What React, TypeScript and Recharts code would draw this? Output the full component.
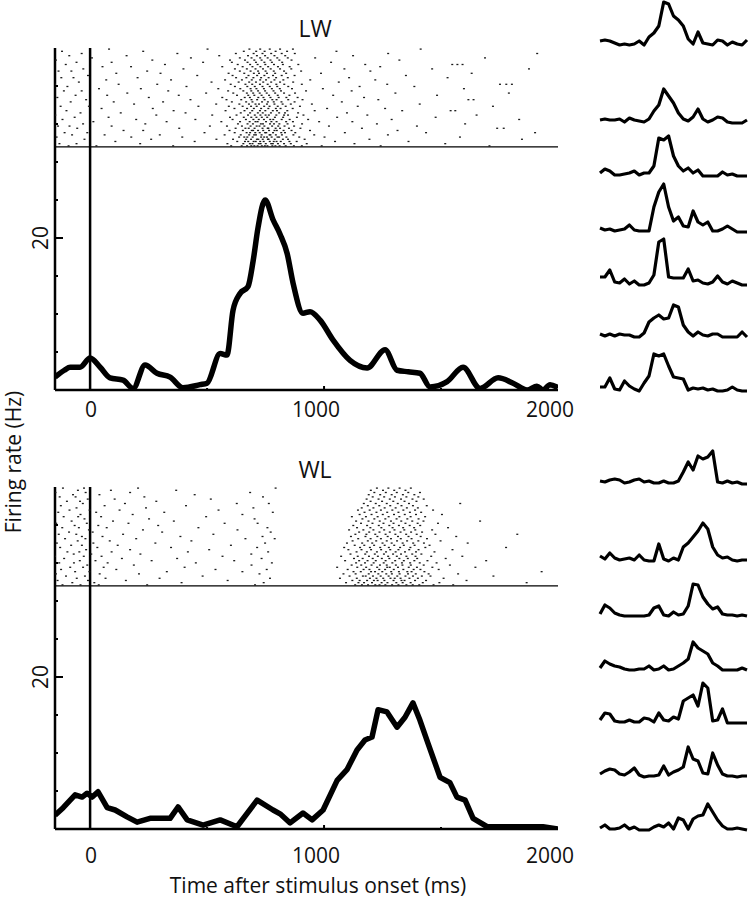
import React from "react";
import { ComposedChart, LineChart, Line, Scatter, XAxis, YAxis, ReferenceLine } from "recharts";

const FONT = "'Open Sans', sans-serif";

// smoothed firing rate (Hz) against time after stimulus onset (ms)
const lwTime = [-150, -110, -85, -43, 0, 43, 85, 141, 184, 235, 286, 342, 397, 470, 500, 556, 585, 611, 641, 675, 697, 718, 748, 782, 812, 842, 868, 910, 940, 983, 1038, 1111, 1184, 1261, 1312, 1360, 1410, 1453, 1526, 1594, 1667, 1744, 1808, 1868, 1910, 1936, 1966, 2000];
const lwRate = [1.7, 2.6, 3.0, 3.0, 4.2, 3.0, 1.6, 1.3, 0.2, 3.3, 2.2, 1.7, 0.3, 0.7, 0.9, 4.8, 4.6, 10.5, 12.7, 13.6, 17, 21.4, 25, 22.4, 20.5, 18, 14, 10.1, 10.3, 9.2, 6.6, 3.9, 2.9, 5.3, 2.6, 2.4, 2.2, 0.4, 1.1, 3.0, 0.2, 1.6, 0.9, 0, 0.5, 0, 0.7, 0.3];

const wlTime = [-150, -115, -64, -34, -13, 9, 34, 73, 107, 158, 201, 256, 342, 376, 415, 483, 556, 628, 714, 782, 812, 855, 910, 949, 996, 1056, 1098, 1141, 1175, 1205, 1231, 1269, 1312, 1346, 1380, 1410, 1444, 1496, 1538, 1568, 1603, 1637, 1697, 1808, 1936, 2000];
const wlRate = [1.8, 2.8, 4.5, 4.2, 4.7, 4.2, 4.9, 2.8, 2.5, 1.6, 0.9, 1.4, 1.4, 2.9, 1.2, 0.5, 1.2, 0.3, 3.8, 2.5, 2.0, 0.8, 2.1, 1.2, 2.5, 6.4, 7.8, 10.4, 11.7, 12.1, 15.7, 15.4, 13.4, 14.7, 16.6, 14.3, 11.3, 6.8, 6.1, 4.2, 3.8, 1.4, 0.3, 0.3, 0.3, 0];

// spike times (ms) per trial, first entry = bottom row of the raster
const lwRaster = [
  "-92 27 355 603 648 671 689 702 716 734 747 758 779 792 810 836 871 905 990 1242 1707",
  "-131 -58 214 587 655 683 694 721 729 751 774 781 803 829 858 926 1130 1518",
  "108 447 629 662 676 699 708 727 742 768 785 797 815 852 883 1047 1361",
  "-24 261 540 611 667 688 713 719 738 760 763 789 824 846 917 1194 1846",
  "-143 176 394 637 659 672 695 731 744 756 776 801 808 839 894 1002 1581",
  "-77 62 298 575 644 680 701 709 733 767 771 794 820 869 958 1273",
  "-109 -12 489 618 669 684 706 725 748 753 782 817 833 877 1089 1436 1902",
  "143 227 596 653 691 697 718 740 765 788 798 827 861 940 1314",
  "-55 381 622 664 678 703 737 759 762 793 812 850 899 1162 1740 1768",
  "-137 -88 92 512 585 649 686 712 724 745 778 804 831 872 1021 1397",
  "-30 236 632 673 696 730 739 769 786 809 844 906 1226 1603",
  "14 327 561 641 682 707 716 752 775 797 838 867 979 1121",
  "-118 197 450 609 666 698 721 743 770 783 819 853 932 1289 1834",
  "-66 79 598 657 689 711 734 757 790 825 884 1056 1477",
  "-149 283 522 626 675 704 728 750 764 796 829 846 912 1185 1652",
  "-41 131 408 644 684 717 738 773 808 833 889 1098",
  "-101 357 579 660 693 726 749 781 799 843 960 1334 1541 1561",
  "49 268 617 671 700 731 762 794 814 866 1013 1261",
  "-126 -5 463 593 652 688 712 744 767 802 836 897 1144 1722",
  "188 539 638 679 707 722 756 788 823 858 948 1409",
  "-83 101 312 606 667 694 735 760 785 818 874 1076",
  "-17 429 583 646 690 714 746 779 797 847 908 1232 1617 1639",
  "-140 251 565 661 683 719 741 771 806 839 887 1171",
  "-62 73 379 628 676 702 733 765 802 852 1039 1483",
  "159 496 612 670 697 725 755 791 829 876 1305 1790",
  "-112 -36 334 590 655 689 718 748 784 816 923 1118",
  "38 217 548 642 686 711 743 777 811 863 995 1598",
  "-97 412 619 672 704 737 768 800 847 1152 1386",
  "-150 122 287 601 664 693 726 759 796 830 905 1270 1752 1779 1803",
  "-48 519 635 680 709 740 774 812 868 1063",
  "69 346 577 649 691 727 752 788 826 941 1219",
  "-123 -71 203 624 668 698 731 763 795 845 1107 1528",
  "-9 458 609 677 714 745 782 819 874 1350",
  "112 301 592 659 700 722 756 791 838 987 1631",
  "-135 -80 244 640 686 718 750 785 829 902 1198",
  "-29 399 619 670 707 739 772 812 860 1087 1462 1876",
  "53 175 565 652 694 728 761 803 853 1240",
  "-104 320 631 684 716 749 786 824 890 1176 1548 1570 1592",
  "-58 92 483 606 673 709 745 777 821 1030",
  "-146 266 598 662 702 733 771 809 861 1322",
  "8 431 640 690 727 759 800 845 962 1688",
  "-89 156 552 675 713 748 788 834 1124",
  "-36 373 623 699 737 774 819 875 1274 1911",
  "-120 227 657 710 746 793 842 1053",
  "81 502 681 727 768 812 867 1413",
];

const wlRaster = [
  "-118 -41 37 244 705 1133 1162 1188 1219 1237 1262 1291 1318 1352 1379 1407 1468 1552",
  "-76 18 391 742 1094 1147 1171 1205 1246 1271 1309 1336 1370 1422 1493 1866",
  "-139 -9 153 588 1121 1152 1184 1213 1229 1258 1297 1331 1344 1389 1436 1609",
  "-57 66 297 769 1068 1140 1196 1224 1253 1284 1302 1327 1365 1401 1511",
  "-103 -22 481 1109 1166 1178 1209 1242 1276 1313 1348 1380 1418 1455 1724",
  "-146 41 209 724 1083 1135 1191 1232 1266 1290 1323 1359 1392 1447 1573",
  "-64 -3 328 651 1126 1157 1201 1218 1249 1287 1320 1356 1374 1429 1930",
  "-124 112 536 755 1101 1169 1194 1236 1261 1298 1339 1383 1412 1490",
  "-85 -30 58 404 1056 1142 1180 1227 1270 1281 1316 1362 1397 1463 1647",
  "-12 187 690 1118 1159 1203 1239 1268 1307 1335 1371 1426 1538",
  "-132 -69 75 452 777 1137 1175 1212 1255 1292 1333 1368 1409 1481",
  "-44 23 263 616 1090 1150 1186 1221 1263 1304 1341 1386 1442 1693",
  "-111 136 372 733 1128 1165 1208 1247 1279 1322 1358 1398 1520",
  "-150 -27 49 566 1073 1144 1192 1230 1274 1311 1352 1391 1458 1591",
  "-70 5 215 689 1113 1176 1217 1256 1295 1329 1377 1416",
  "-97 -46 92 418 761 1139 1183 1226 1265 1306 1346 1393 1472",
  "-17 171 509 1104 1160 1201 1244 1283 1318 1364 1404 1549",
  "-128 31 346 714 1086 1154 1196 1240 1277 1325 1369 1433 1778",
  "-81 -35 118 602 1131 1172 1214 1259 1300 1341 1387 1451",
  "-142 14 279 748 1098 1163 1206 1250 1289 1336 1381 1427 1614",
  "-53 84 433 1122 1187 1223 1268 1312 1355 1403 1498",
  "-107 -20 197 664 789 1146 1199 1243 1286 1328 1374 1440",
  "-35 53 386 737 1115 1177 1228 1272 1316 1361 1413 1565",
  "-134 -59 141 527 1134 1181 1219 1263 1305 1351 1396 1476 1826",
  "-90 11 308 772 1150 1193 1237 1281 1327 1372 1419",
  "-5 226 630 1107 1168 1211 1257 1301 1343 1390 1462",
  "-119 -48 71 463 758 1141 1198 1245 1293 1338 1385 1530",
  "-66 35 291 1125 1184 1234 1279 1320 1366 1411",
  "-145 -14 164 575 716 1158 1207 1254 1297 1348 1400 1487",
  "-79 98 358 1137 1190 1238 1286 1330 1377 1425 1667",
  "-24 252 703 1164 1215 1262 1310 1356 1404",
  "-113 -51 47 496 1119 1179 1229 1276 1322 1370 1432",
  "-41 182 651 1152 1203 1251 1299 1345 1393 1504",
  "-136 26 317 781 1173 1224 1270 1318 1367 1415",
  "-88 -2 126 549 1145 1195 1243 1292 1339 1389 1466",
  "-58 239 698 1161 1211 1259 1306 1354 1401",
  "-125 62 410 1187 1236 1283 1331 1380 1439",
  "-31 149 627 764 1170 1221 1268 1315 1363 1582",
  "-99 -43 283 1199 1248 1296 1344 1395",
  "-10 105 516 1182 1233 1281 1329 1378 1426",
  "-130 -62 232 739 1208 1257 1303 1352 1403",
  "-73 40 447 1191 1240 1289 1337 1386",
  "-148 -19 171 684 1215 1264 1311 1360 1410",
  "-52 89 368 1200 1252 1300 1348",
  "-116 -26 205 793 1226 1275 1323 1371",
];

const rateTicks = [0, 5, 10, 15, 20, 25, 30, 35, 40];
const rateLabels = [20];
const timeTicks = [0, 500, 1000, 1500, 2000];
const timeLabels = [0, 1000, 2000];

// single-neuron rate traces on the right, 31 equal bins over the same time window
const lwTraces = [
  [5, 6, 5, 3, 1, 2, 1, 2, 5, 1, 9, 13, 20, 44, 42, 30, 26, 20, 7, 2, 14, 3, 2, 1, 6, 5, 1, 4, 2, 1, 6],
  [3, 4, 3, 3, 4, 1, 5, 3, 2, 1, 4, 12, 18, 34, 27, 20, 10, 4, 2, 6, 14, 4, 1, 3, 6, 5, 1, 0, 0, 0, 3],
  [3, 7, 5, 1, 1, 2, 3, 5, 1, 3, 3, 10, 38, 36, 40, 20, 10, 5, 8, 3, 6, 0, 0, 0, 0, 4, 1, 2, 0, 0, 0],
  [4, 2, 3, 1, 2, 3, 7, 2, 1, 1, 1, 25, 40, 48, 25, 11, 15, 6, 5, 21, 10, 7, 10, 1, 1, 3, 6, 3, 0, 0, 0],
  [8, 8, 15, 3, 2, 6, 1, 4, 0, 0, 2, 10, 43, 46, 8, 7, 7, 7, 16, 4, 5, 2, 1, 3, 9, 3, 1, 4, 2, 0, 0],
  [3, 1, 3, 1, 3, 2, 2, 0, 0, 4, 15, 19, 22, 18, 19, 32, 30, 12, 5, 1, 5, 2, 1, 3, 3, 0, 0, 0, 0, 5, 0],
  [4, 4, 13, 2, 1, 10, 5, 2, 0, 8, 15, 37, 35, 37, 25, 14, 13, 12, 1, 3, 2, 3, 1, 2, 0, 0, 1, 4, 1, 0, 0],
];
const wlTraces = [
  [3, 2, 4, 5, 4, 1, 2, 4, 5, 2, 3, 1, 1, 3, 1, 1, 3, 12, 22, 14, 28, 25, 27, 33, 2, 1, 3, 1, 2, 0, 0],
  [5, 2, 8, 3, 1, 2, 3, 1, 6, 1, 0, 0, 17, 2, 0, 3, 1, 14, 18, 24, 30, 38, 32, 14, 6, 3, 4, 1, 0, 1, 1],
  [2, 11, 8, 3, 1, 0, 0, 0, 0, 0, 1, 8, 10, 1, 0, 4, 1, 2, 10, 32, 31, 19, 12, 7, 9, 2, 1, 1, 0, 1, 0],
  [2, 9, 6, 4, 3, 1, 0, 0, 1, 1, 4, 0, 1, 4, 0, 1, 4, 7, 11, 28, 22, 19, 16, 7, 4, 0, 0, 0, 0, 2, 0],
  [3, 10, 9, 2, 1, 1, 3, 1, 1, 5, 4, 1, 10, 3, 2, 6, 4, 22, 25, 28, 17, 40, 35, 2, 3, 14, 0, 0, 0, 0, 0],
  [3, 6, 8, 7, 3, 2, 5, 9, 2, 0, 1, 1, 2, 11, 2, 5, 7, 10, 30, 18, 16, 4, 3, 24, 12, 3, 1, 1, 0, 1, 1],
  [2, 5, 1, 1, 2, 5, 1, 3, 0, 0, 0, 3, 5, 3, 7, 1, 12, 10, 1, 11, 14, 15, 26, 18, 10, 4, 1, 1, 2, 1, 0],
];

// layout: baseline (px from page top) of each small trace
const lwTraceRows = [46, 123, 176, 232, 285, 337, 391];
const wlTraceRows = [484, 561, 616, 670, 723, 777, 830];

const toRate = (t: number[], r: number[]) => t.map((x, i) => ({ t: x, rate: r[i] }));
const toSpikes = (rows: string[]) =>
  rows.flatMap((row, trial) => row.split(" ").map((s) => ({ t: Number(s), trial: trial + 0.5 })));

function RateTick(props: any) {
  const { x, y, payload } = props;
  const major = rateLabels.includes(payload.value);
  return (
    <g>
      <line x1={x} x2={x + (major ? 8 : 3)} y1={y} y2={y} stroke="#000" strokeWidth={2} />
      {major && (
        <text x={x - 7} y={y} transform={`rotate(-90 ${x - 7} ${y})`} textAnchor="middle"
          fontSize={21} fontFamily={FONT} fill="#111">
          {payload.value}
        </text>
      )}
    </g>
  );
}

function TimeTick(props: any) {
  const { x, y, payload, labelDy } = props;
  const v = payload.value;
  return (
    <g>
      {v > 0 && v < 2000 && (
        <line x1={x} x2={x} y1={y} y2={y - (v % 1000 === 0 ? 4 : 2)} stroke="#000" strokeWidth={2} />
      )}
      {timeLabels.includes(v) && (
        <text x={x + (v ? -8 : 1)} y={y + labelDy} textAnchor="middle" fontSize={21} fontFamily={FONT} fill="#111">
          {v}
        </text>
      )}
    </g>
  );
}

const Dot = (p: any) => <rect x={p.cx - 1} y={p.cy - 0.65} width={2} height={1.3} fill="#1a1a1a" />;

function Panel({ top, time, rate, raster, smooth, labelDy }: any) {
  return (
    <div style={{ position: "absolute", left: 0, top }}>
      <ComposedChart width={600} height={440} margin={{ top: 48, right: 42, bottom: 10, left: 15 }}>
        <XAxis type="number" dataKey="t" domain={[-150, 2000]} ticks={timeTicks} interval={0}
          allowDataOverflow height={40} tickSize={0} tickMargin={0} tickLine={false}
          axisLine={{ stroke: "#000", strokeWidth: 2.5 }}
          tick={(p: any) => <TimeTick {...p} labelDy={labelDy} />} />
        <YAxis yAxisId="rate" type="number" domain={[0, 45]} ticks={rateTicks} interval={0} width={40}
          allowDataOverflow tickSize={0} tickMargin={0} tickLine={false}
          axisLine={{ stroke: "#000", strokeWidth: 2.5 }} tick={<RateTick />} />
        <YAxis yAxisId="trial" dataKey="trial" type="number" domain={[-110.5, 45]} hide />
        <ReferenceLine yAxisId="rate" y={32} stroke="#000" strokeWidth={1.3} />
        <ReferenceLine yAxisId="rate" x={0} stroke="#000" strokeWidth={2.5} />
        <Scatter yAxisId="trial" data={toSpikes(raster)} dataKey="trial" shape={Dot} isAnimationActive={false} />
        <Line yAxisId="rate" data={toRate(time, rate)} dataKey="rate" type={smooth ? "monotone" : "linear"}
          stroke="#000" strokeWidth={5.5} dot={false} strokeLinejoin="round" isAnimationActive={false} />
      </ComposedChart>
    </div>
  );
}

function Trace({ values, base }: { values: number[]; base: number }) {
  const data = values.map((v, i) => ({ i, v }));
  return (
    <div style={{ position: "absolute", left: 597, top: base - 53 }}>
      <LineChart width={153} height={56} data={data} margin={{ top: 3, right: 3, bottom: 3, left: 3 }}
        style={{ overflow: "visible" }}>
        <XAxis type="number" dataKey="i" domain={[0, 30]} hide />
        <YAxis type="number" domain={[0, 50]} hide />
        <Line dataKey="v" type="linear" stroke="#000" strokeWidth={3.2} dot={false} strokeLinejoin="round"
          isAnimationActive={false} />
      </LineChart>
    </div>
  );
}

export default function App() {
  return (
    <div style={{ position: "absolute", left: 0, top: 0, width: 750, height: 899, background: "#fff" }}>
      <Panel top={0} time={lwTime} rate={lwRate} raster={lwRaster} smooth labelDy={27} />
      <Panel top={439} time={wlTime} rate={wlRate} raster={wlRaster} smooth={false} labelDy={34} />
      {lwTraces.map((v, k) => <Trace key={"lw" + k} values={v} base={lwTraceRows[k]} />)}
      {wlTraces.map((v, k) => <Trace key={"wl" + k} values={v} base={wlTraceRows[k]} />)}
      <svg width={750} height={899} style={{ position: "absolute", left: 0, top: 0, pointerEvents: "none" }}>
        <g fontFamily={FONT} fill="#111">
          <text x={315} y={37} textAnchor="middle" fontSize={23}>LW</text>
          <text x={315} y={478} textAnchor="middle" fontSize={23}>WL</text>
          <text x={21} y={462} textAnchor="middle" fontSize={21} transform="rotate(-90 21 462)">Firing rate (Hz)</text>
          <text x={318} y={893} textAnchor="middle" fontSize={21}>Time after stimulus onset (ms)</text>
        </g>
      </svg>
    </div>
  );
}
